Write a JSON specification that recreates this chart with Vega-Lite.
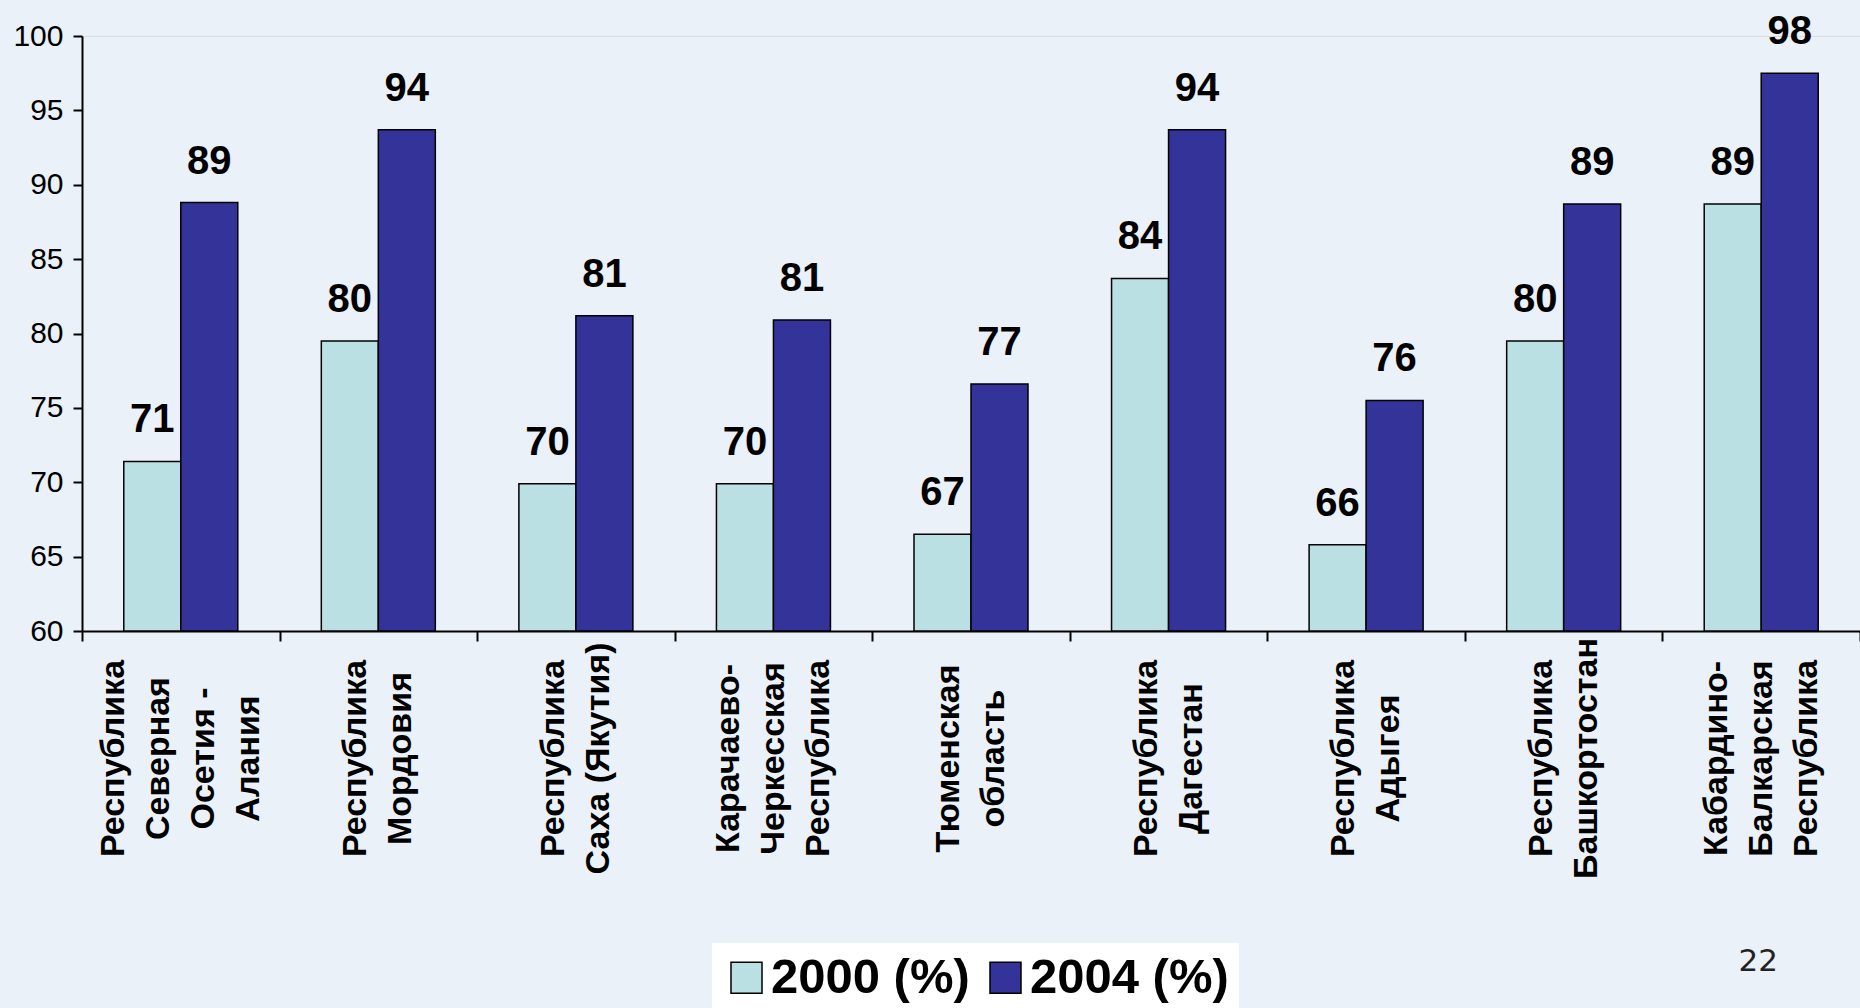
{
  "$schema": "https://vega.github.io/schema/vega-lite/v6.json",
  "autosize": "none",
  "width": 1778,
  "height": 595,
  "padding": {"left": 82, "top": 36, "right": 0, "bottom": 377},
  "background": "#EAF1F8",
  "title": {
    "text": "22",
    "orient": "bottom",
    "anchor": "end",
    "dx": -83,
    "offset": -66,
    "font": "DejaVu Sans",
    "fontSize": 31,
    "fontWeight": "normal",
    "color": "#222222"
  },
  "data": {
    "values": [
      {"region": "Республика|Северная|Осетия -|Алания", "year": "2000 (%)", "value": 71.4},
      {"region": "Республика|Северная|Осетия -|Алания", "year": "2004 (%)", "value": 88.8},
      {"region": "Республика|Мордовия", "year": "2000 (%)", "value": 79.5},
      {"region": "Республика|Мордовия", "year": "2004 (%)", "value": 93.7},
      {"region": "Республика|Саха (Якутия)", "year": "2000 (%)", "value": 69.9},
      {"region": "Республика|Саха (Якутия)", "year": "2004 (%)", "value": 81.2},
      {"region": "Карачаево-|Черкесская|Республика", "year": "2000 (%)", "value": 69.9},
      {"region": "Карачаево-|Черкесская|Республика", "year": "2004 (%)", "value": 80.9},
      {"region": "Тюменская|область", "year": "2000 (%)", "value": 66.5},
      {"region": "Тюменская|область", "year": "2004 (%)", "value": 76.6},
      {"region": "Республика|Дагестан", "year": "2000 (%)", "value": 83.7},
      {"region": "Республика|Дагестан", "year": "2004 (%)", "value": 93.7},
      {"region": "Республика|Адыгея", "year": "2000 (%)", "value": 65.8},
      {"region": "Республика|Адыгея", "year": "2004 (%)", "value": 75.5},
      {"region": "Республика|Башкортостан", "year": "2000 (%)", "value": 79.5},
      {"region": "Республика|Башкортостан", "year": "2004 (%)", "value": 88.7},
      {"region": "Кабардино-|Балкарская|Республика", "year": "2000 (%)", "value": 88.7},
      {"region": "Кабардино-|Балкарская|Республика", "year": "2004 (%)", "value": 97.5}
    ]
  },
  "encoding": {
    "x": {
      "field": "region",
      "type": "nominal",
      "sort": null,
      "scale": {"paddingInner": 0, "paddingOuter": 0},
      "axis": {
        "title": null,
        "labelExpr": "split(datum.label, '|')",
        "labelAngle": -90,
        "labelAlign": "center",
        "labelBaseline": "middle",
        "labelPadding": 117,
        "labelLineHeight": 45,
        "labelFont": "Liberation Sans",
        "labelFontSize": 34,
        "labelFontWeight": "bold",
        "labelColor": "black",
        "labelOverlap": false,
        "labelBound": false,
        "labelFlush": false,
        "labelLimit": 0,
        "labelOffset": {
          "condition": [
            {"test": "length(split(datum.label, '|')) == 4", "value": -67.5},
            {"test": "length(split(datum.label, '|')) == 3", "value": -45}
          ],
          "value": -22.5
        },
        "tickBand": "extent",
        "tickSize": 10,
        "tickWidth": 2,
        "tickColor": "black",
        "domainColor": "black",
        "domainWidth": 2
      }
    },
    "xOffset": {
      "field": "year",
      "type": "nominal",
      "scale": {"paddingInner": 0, "paddingOuter": 0.733}
    },
    "y": {
      "field": "value",
      "type": "quantitative",
      "scale": {"domain": [60, 100], "nice": false, "zero": false},
      "axis": {
        "title": null,
        "values": [60, 65, 70, 75, 80, 85, 90, 95, 100],
        "grid": false,
        "labelFont": "Liberation Sans",
        "labelFontSize": 30,
        "labelColor": "black",
        "labelPadding": 10,
        "tickSize": 9,
        "tickWidth": 2,
        "tickColor": "black",
        "domainColor": "black",
        "domainWidth": 2
      }
    }
  },
  "layer": [
    {
      "mark": {"type": "bar", "stroke": "black", "strokeWidth": 1.5},
      "encoding": {
        "y2": {"datum": 60},
        "color": {
          "field": "year",
          "type": "nominal",
          "scale": {"domain": ["2000 (%)", "2004 (%)"], "range": ["#BAE0E3", "#333399"]},
          "legend": {
            "title": null,
            "orient": "none",
            "legendX": 630,
            "legendY": 907,
            "direction": "horizontal",
            "fillColor": "white",
            "padding": 10,
            "symbolType": "square",
            "symbolSize": 961,
            "symbolStrokeColor": "black",
            "symbolStrokeWidth": 1.5,
            "labelFont": "Liberation Sans",
            "labelFontSize": 49,
            "labelFontWeight": "bold",
            "labelColor": "black",
            "labelOffset": 0,
            "columnPadding": 11,
            "labelLimit": 0
          }
        }
      }
    },
    {
      "mark": {"type": "text", "baseline": "alphabetic", "dy": -29, "font": "Liberation Sans", "fontSize": 40, "fontWeight": "bold", "color": "black"},
      "encoding": {
        "text": {"field": "value", "type": "quantitative", "format": "d"}
      }
    }
  ]
}
